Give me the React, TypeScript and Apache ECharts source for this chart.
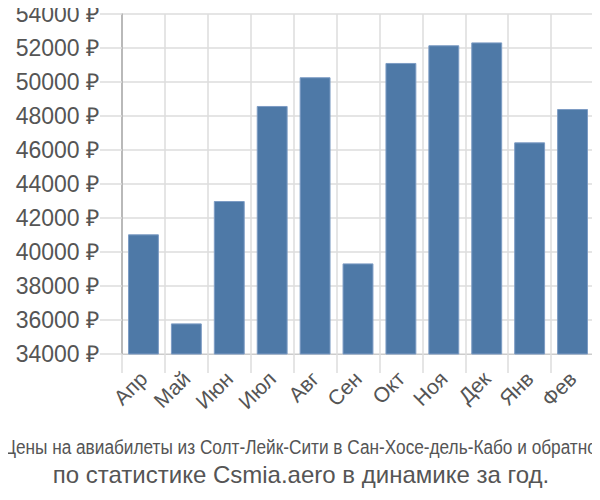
import React, { useEffect, useRef } from "react";
import * as echarts from "echarts";

const categories = ["Апр", "Май", "Июн", "Июл", "Авг", "Сен", "Окт", "Ноя", "Дек", "Янв", "Фев"];
const prices = [41040, 35800, 43000, 48590, 50280, 39330, 51120, 52160, 52330, 46450, 48410];
const yMin = 34000;
const yMax = 54000;
const yStep = 2000;
const titleLine1 = "Цены на авиабилеты из Солт-Лейк-Сити в Сан-Хосе-дель-Кабо и обратно";
const titleLine2 = "по статистике Csmia.aero в динамике за год.";

export default function App() {
  const ref = useRef<HTMLDivElement>(null);
  useEffect(() => {
    if (!ref.current) return;
    const chart = echarts.init(ref.current, null, { renderer: "svg" });
    const font = "'Liberation Sans', Arial, sans-serif";
    const probe = new echarts.graphic.Text({
      style: { text: titleLine1, fontSize: 20, fontFamily: font },
    });
    const w = probe.getBoundingRect().width;
    const sx = w > 0 ? 594 / w : 0.8;
    chart.setOption({
      animation: false,
      grid: { left: 122, right: 6, top: 14, bottom: 146 },
      xAxis: {
        type: "category",
        data: categories,
        boundaryGap: true,
        axisLine: { show: true, lineStyle: { color: "#ccc", width: 1 } },
        axisTick: { show: true, interval: 0, length: 19, lineStyle: { color: "#ddd", width: 1.5 } },
        splitLine: { show: true, interval: 0, lineStyle: { color: "#ddd", width: 1.5 } },
        axisLabel: {
          interval: 0,
          rotate: 45,
          fontSize: 21,
          color: "#555",
          fontFamily: font,
          margin: 21,
        },
      },
      yAxis: {
        type: "value",
        min: yMin,
        max: yMax,
        interval: yStep,
        axisLine: { show: true, lineStyle: { color: "#aaa", width: 1.5 } },
        axisTick: { show: true, length: 22, lineStyle: { color: "#ddd", width: 1.5 } },
        splitLine: { show: true, lineStyle: { color: "#ddd", width: 1.5 } },
        axisLabel: {
          formatter: (v: number) => `${v} ₽`,
          fontSize: 23,
          color: "#555",
          fontFamily: font,
          margin: 23,
        },
      },
      series: [
        {
          type: "bar",
          data: prices,
          barCategoryGap: "28%",
          itemStyle: { color: "#4e79a7", borderColor: "#7d9cc4", borderWidth: 1 },
        },
      ],
      graphic: [
        {
          type: "text",
          x: 300,
          y: 447,
          scaleX: sx,
          style: {
            text: titleLine1,
            fontSize: 20,
            fontFamily: font,
            fill: "#555",
            align: "center",
            verticalAlign: "middle",
          },
        },
        {
          type: "text",
          x: 301,
          y: 474,
          style: {
            text: titleLine2,
            fontSize: 24,
            fontFamily: font,
            fill: "#555",
            align: "center",
            verticalAlign: "middle",
          },
        },
      ],
    });
    return () => chart.dispose();
  }, []);
  return <div ref={ref} style={{ width: 600, height: 500, margin: -8 }} />;
}
